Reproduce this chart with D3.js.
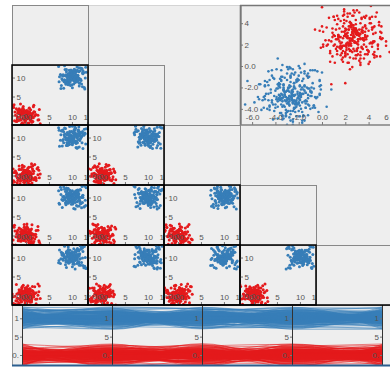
<!DOCTYPE html>
<html><head><meta charset="utf-8">
<script src="https://cdn.jsdelivr.net/npm/d3@7/dist/d3.min.js"></script>
<style>
html,body{margin:0;padding:0;background:#fff;overflow:hidden}
svg{display:block}
text{font-family:"Liberation Sans",Arial,sans-serif}
</style></head>
<body><svg id="chart" width="390" height="367"></svg>
<script>
// ---- SPLOM / parallel-coordinate data: 5 dimensions, two clusters (values in tenths) ----
const redD0=[3,-8,12,-5,0,7,-14,2,-3,9,-11,5,17,-2,-7,4,-19,1,10,-6,6,-1,13,-9,-4,22,-12,8,-15,3,0,-8,11,-3,5,-24,7,-6,15,-1,2,-10,9,-17,4,-5,19,-2,-13,6,1,-7,8,-4,14,-9,-20,3,11,-1,5,-6,-12,26,0,-3,7,-8,2,16,-11,4,-5,9,-2,-16,12,-7,1,6,-14,3,-9,21,-4,8,-1,-18,10,-6,2,13,-10,5,-3,-22,7,0,-8,4,-27,15,-6,24,-18,9,-30,2,19,-12,28,-3,-21,11,6,-25,17,-9,31,-15,4,-28,13,-1,22,-8,-19,7,26,-13,1,-23,16,-4,29,-10,8,-26,12,-2];
const redD1=[-6,4,-13,9,1,-2,15,-8,6,-11,3,-4,10,-17,7,0,-9,12,-3,5,-20,8,-1,14,-7,2,-12,6,18,-5,-2,11,-15,4,-8,9,1,-23,6,-3,13,-10,0,7,-6,16,-1,-14,3,10,-5,20,-9,2,-4,8,-16,5,-1,12,-7,24,-11,1,6,-3,9,-19,4,-6,14,-2,-10,7,0,-13,3,17,-8,5,-4,11,-21,2,-1,8,-12,6,15,-5,-9,3,1,-7,10,-15,19,-2,4,-6,21,-16,5,-29,13,-4,26,-20,9,30,-11,-1,18,-25,7,-14,27,3,-22,12,-7,25,-18,6,-31,15,-3,20,-12,8,-27,1,23,-9,16,-24,4,28,-6,-17];
const redD2=[10,-3,-9,5,14,-7,2,-16,8,0,-4,12,-11,6,-1,19,-6,3,-13,9,-2,7,-20,4,11,-8,1,-5,16,-10,6,-3,23,-12,2,8,-7,-1,13,-17,5,-4,9,-9,0,15,-6,3,-22,11,-2,7,-14,1,18,-5,4,-11,6,-8,12,-3,-15,2,9,-1,-6,21,-10,5,-4,13,-18,0,7,-7,3,-12,10,-2,16,-9,4,-5,-25,8,1,-13,6,-3,11,-6,2,-19,14,-1,5,-10,3,-8,-14,26,-5,18,-28,9,-21,3,29,-11,14,-24,7,-2,22,-17,11,-30,4,25,-8,17,-26,1,-13,27,-19,6,21,-3,-29,12,-10,24,-6,16,-23,8,31,-15];
const redD3=[-2,11,5,-13,-6,8,0,17,-9,3,-15,6,1,-4,13,-10,9,-1,-21,4,7,-7,2,15,-12,-3,10,-5,20,-8,1,6,-17,3,-2,12,-11,8,-6,0,24,-4,5,-14,9,-9,2,16,-3,-18,7,-1,11,-7,4,-12,3,19,-5,8,-10,1,-2,14,-16,6,-8,10,-3,-23,5,0,12,-6,2,-11,17,-4,7,-1,-14,9,-7,3,22,-9,1,-5,13,-2,6,-19,4,-12,8,-3,15,0,-8,5,25,-19,8,-27,14,2,-23,30,-9,17,-14,21,-31,5,-6,27,-16,10,-24,1,19,-12,28,-4,13,-29,6,-20,24,-7,11,-25,3,29,-18,9,-2,22,-11,15];
const redD4=[7,-1,-12,4,16,-8,3,-5,10,-18,1,8,-3,13,-10,5,-7,21,-2,0,-14,9,-6,2,12,-22,6,-4,15,-1,-9,4,11,-13,7,-2,18,-6,1,-11,9,-16,3,-8,14,-3,5,-20,10,0,-5,7,-12,2,24,-7,4,-1,-15,8,-9,12,-4,1,17,-11,6,-2,-19,3,10,-6,5,-13,0,8,-17,2,13,-8,4,-3,20,-10,7,-5,1,-24,11,-1,6,-9,15,-4,3,-14,9,-7,2,-2,-21,12,27,-9,-30,18,4,-16,23,-25,10,-5,29,-13,16,-27,2,21,-8,-19,26,-3,13,-28,7,24,-15,-1,30,-11,19,-23,9,-6,25,-17,14,-29,3,20];
const blueD0=[104,95,112,99,88,107,101,117,93,103,86,110,98,106,91,121,100,95,114,102,83,108,97,111,94,105,89,116,99,92,109,103,78,113,96,101,90,119,105,93,108,87,100,115,97,104,82,111,95,107,99,124,91,102,113,88,106,98,120,94,103,85,110,96,101,117,92,105,90,109,100,81,114,97,103,93,118,106,89,99,112,95,104,84,108,101,123,92,107,97,115,88,102,110,94,99,105,80,111,96,127,88,113,71,104,124,82,118,95,130,77,109,121,86,99,128,73,115,92,126,80,111,123,75,107,89,129,84,116,96,72,122,101,79,119,87,131,93,76,112];
const blueD1=[97,108,90,103,115,94,101,86,110,99,105,92,120,96,107,83,102,111,95,100,89,113,104,98,119,91,106,85,101,109,93,117,97,104,88,112,100,95,122,90,103,107,81,98,114,96,105,91,110,87,102,118,94,100,106,84,113,99,92,108,97,121,89,103,111,95,86,104,101,116,93,107,98,79,110,102,96,114,90,105,99,88,119,94,108,100,112,85,103,97,115,92,106,101,83,109,95,104,117,98,74,121,96,129,83,110,72,118,91,127,79,105,124,86,115,70,102,126,81,113,93,128,76,108,120,85,99,131,78,117,89,123,73,106,125,82,114,94,71,119];
const blueD2=[110,92,100,116,97,104,85,108,95,112,101,89,106,119,94,103,98,82,111,96,107,90,114,100,93,121,87,105,99,109,84,102,117,95,106,91,113,98,103,88,124,96,101,108,93,115,86,104,99,111,94,107,80,102,118,97,105,90,112,100,96,109,87,103,115,92,106,99,83,110,101,95,120,89,104,97,113,91,107,100,86,116,94,102,108,81,111,98,105,93,118,96,103,88,109,100,114,92,106,97,122,79,108,126,87,71,115,97,129,83,118,74,103,124,90,112,77,128,85,106,120,72,116,93,127,80,110,125,75,101,119,86,130,78,113,95,123,81,107,73];
const blueD3=[95,106,113,88,101,97,118,92,104,110,86,99,107,94,122,100,91,105,115,83,102,96,111,89,108,98,117,93,103,85,112,100,95,120,90,106,101,87,114,97,104,81,109,99,116,92,103,107,88,111,96,100,123,94,105,90,113,98,84,102,110,95,106,119,91,101,97,108,86,115,100,93,104,112,89,99,121,96,107,82,103,110,94,98,117,91,105,100,87,113,96,108,102,79,111,99,106,93,116,101,76,125,90,118,71,106,128,84,113,79,121,97,73,116,88,130,82,109,124,75,102,119,87,127,70,111,93,122,78,115,85,129,99,74,120,83,126,92,108,77];
const blueD4=[102,89,107,96,115,100,93,110,85,104,98,119,91,106,101,87,112,95,108,83,103,117,97,100,92,113,88,105,99,121,94,102,109,86,111,96,104,80,107,100,114,93,98,118,90,103,106,84,110,97,101,116,92,105,89,112,99,95,123,87,104,100,108,91,115,96,102,82,109,98,106,93,120,101,88,111,97,104,114,90,100,107,85,103,117,95,99,110,92,105,86,113,98,101,119,94,108,96,103,89,129,74,117,86,123,79,108,131,91,72,114,98,126,81,103,77,120,89,128,73,111,95,125,84,70,116,100,130,80,119,92,127,76,106,122,88,71,113,97,124];

// ---- large 2-D scatter: core points (values in tenths) ----
const bigRedX=[20,27,21,33,18,29,25,40,14,31,24,36,20,28,9,34,26,22,45,30,17,25,38,23,12,32,27,19,43,26,35,21,29,6,33,24,28,16,39,25,31,20,48,27,13,34,23,30,18,37,26,22,41,28,11,32,25,19,35,29,15,44,24,30,21,27,36,17,52,26,33,20,28,10,38,25,31,22,46,27,16,34,23,29,3,37,26,20,32,28,42,18,25,35,14,30,24,39,21,27,8,33,26,50,19,31,23,36,28,13,40,25,22,29,17,34,26,45,20,32,24,38,15,27,30,21,55,25,33,18,28,11,36,24,31,19,43,26,7,35,22,29,16,39,27,23,47,30,20,34,25,12,37,28,21,41,24,32,17,29,26,58,19,35,23,30,14,38,27,22,44,25,31,9,34,28,20,49,26];
const bigRedY=[-16,30,19,26,37,22,14,33,28,20,41,24,9,35,27,17,31,46,23,29,12,38,25,21,34,5,28,43,18,32,26,15,39,24,30,20,50,27,11,36,23,29,16,33,25,44,19,31,8,37,26,22,40,14,28,34,21,53,25,30,17,36,24,10,42,27,20,32,26,47,13,35,23,29,18,39,25,3,31,28,21,45,16,34,24,27,38,12,30,22,56,26,19,33,25,15,41,28,20,36,23,7,31,27,48,17,34,25,22,39,13,29,26,43,18,32,24,37,10,28,21,35,27,52,16,30,23,40,25,14,33,20,46,26,29,19,36,24,4,31,28,22,42,15,34,26,50,21,30,18,38,25,11,32,27,44,23,29,17,35,24,13,40,26,20,33,28,47,16,31,22,37,25,9,34,27,19,41,24];
const bigBlueX=[-24,-31,-18,-27,-38,-21,-29,-13,-33,-25,-44,-20,-28,-35,-16,-26,-30,-9,-23,-40,-27,-19,-32,-24,-49,-22,-34,-15,-29,-26,-37,-11,-25,-31,-20,-42,-28,-17,-33,-23,-6,-30,-26,-39,-21,-35,-14,-27,-46,-24,-32,-18,-29,-25,-52,-20,-36,-12,-28,-31,-22,-41,-26,-16,-34,-23,-3,-30,-27,-38,-19,-33,-25,-47,-21,-29,-10,-35,-24,-28,-43,-17,-31,-26,-22,-37,-14,-32,-25,-55,-20,-30,-18,-39,-27,-23,-8,-34,-26,-45,-19,-29,-33,-15,-28,-24,-40,-21,-36,-12,-30,-27,-50,-22,-32,-17,-26,-38,-25,-1,-31,-20,-35,-28,-44,-16,-29,-23,-41,-26,-13,-33,-24,-48,-19,-30,-27,-36,-11,-25,-32,-21,-42,-28,-18,-34,-22,-58,-26,-31,-15,-37,-24,-29,-7,-33,-20,-46,-27,-23,-39,-17,-30,-25,-53,-21,-35,-14,-28,-32,-19,-43,-26,-10,-34,-24];
const bigBlueY=[-20,-33,-27,-15,-38,-24,-30,-9,-29,-42,-22,-35,-18,-26,-47,-31,-13,-28,-36,-23,-2,-32,-25,-40,-19,-34,-27,-51,-21,-30,-16,-37,-24,-44,-28,-11,-33,-26,-20,-39,-29,-55,-23,-31,-14,-36,-25,-45,-18,-32,-27,-6,-34,-22,-41,-28,-17,-30,-48,-24,-35,-12,-29,-26,-38,-21,-43,-31,-19,-33,-25,-58,-27,-15,-36,-23,-40,-30,-8,-28,-34,-20,-46,-26,-32,-18,-39,-24,-52,-29,-13,-35,-22,-31,-42,-27,-4,-33,-25,-37,-19,-30,-49,-23,-28,-16,-36,-26,-44,-21,-32,-10,-29,-38,-24,-53,-27,-17,-34,-22,-41,-30,-14,-31,-25,-46,-20,-35,-28,-7,-33,-23,-39,-26,-18,-43,-29,-32,-21,-50,-27,-12,-36,-24,-40,-30,-15,-34,-25,-47,-19,-31,-28,-3,-37,-22,-42,-26,-11,-33,-29,-56,-23,-35,-17,-30,-44,-25,-20,-38,-27,-9,-32,-24];
// ---- large 2-D scatter: outer points (values in tenths) ----
const bigRedX2=[36,18,16,45,29,9,24,38,14,12,50,27,10,33,31,11,16,55,26,5,40,30,9,22,50,24,7,47,31,1,27,50,23,13,45,29,1,33,49,15,17,48,29,4,31,46,14,24,51,21,7,35,43,14,23,51,19,13,39,30,15,29,51,20,11,42,24,17,36,41,19,18,44,19,13,40,37,20,26,37,13,16,45,32,14,33,37,10,20,41,27,15,41,37,0,24,43,22,18,39,35,-2,29,44,10,21,44,33,-1,26,43,6,24,48,23,1,30,42,4,21,-12,62,-6,60,8,45,65,0];
const bigRedY2=[24,47,16,8,33,31,-3,27,44,16,9,38,19,1,29,43,10,19,34,20,2,33,35,11,26,37,14,9,31,32,7,32,34,14,10,35,20,10,38,35,6,19,31,19,11,46,29,8,25,34,12,16,46,29,3,31,32,11,15,52,18,7,37,33,3,22,49,22,7,45,28,4,23,51,18,14,45,28,-1,29,47,19,13,50,27,3,32,46,13,21,47,23,4,38,37,14,21,49,19,11,36,33,10,30,46,21,11,40,17,13,34,45,15,20,37,18,14,40,36,17,-10,56,34,-2,-17,60,28,55];
const bigBlueX2=[-24,-49,-14,-6,-38,-29,-2,-24,-45,-17,-10,-39,-22,-1,-33,-40,-14,-15,-37,-23,-2,-33,-34,-10,-28,-36,-17,-4,-33,-34,-9,-34,-32,-12,-15,-33,-27,-7,-39,-36,-7,-20,-31,-19,-15,-43,-33,-4,-25,-37,-12,-16,-45,-28,-9,-30,-35,-6,-17,-54,-24,-9,-35,-31,-8,-20,-54,-19,-8,-46,-29,-5,-22,-51,-22,-11,-49,-24,-2,-32,-47,-19,-12,-49,-28,-2,-35,-41,-15,-23,-49,-25,-2,-36,-42,-12,-27,-46,-20,-12,-37,-34,-10,-30,-50,-18,-15,-36,-25,-16,-34,-45,-14,-19,-43,-17,-13,-35,-38,-19,8,4,-64,-66,0,-38];
const bigBlueY2=[-19,-31,-39,-4,-21,-42,-27,-16,-38,-34,-4,-21,-47,-18,-18,-39,-35,2,-30,-43,-13,-17,-47,-28,-1,-28,-43,-5,-22,-46,-25,1,-32,-36,-5,-22,-51,-21,-3,-31,-37,0,-29,-47,-18,-4,-37,-29,-3,-27,-46,-12,-13,-36,-24,-1,-31,-39,-14,-17,-40,-20,-4,-29,-39,-9,-31,-37,-16,-5,-35,-30,-13,-32,-36,-10,-14,-33,-26,-11,-40,-31,-11,-18,-37,-19,-13,-42,-33,-6,-28,-34,-14,-12,-50,-27,-9,-32,-34,-7,-19,-50,-23,-7,-39,-29,-7,-20,-55,-22,-10,-41,-32,-2,-32,-51,-20,-10,-49,-26,-22,-38,-14,-36,-6,7];

// ---- tick values / labels ----
const splomXTicks=[0,5,10,13.4];
const splomXLabels=["0.0","5","10","14"];
const splomYTicks=[0,5,10];
const splomYLabels=["0.0","5","10"];
const bigXTicks=[-6,-4,-2,0,2,4,6];
const bigXLabels=["-6.0","-4.0","-2.0","0.0","2","4","6"];
const bigYTicks=[-4,-2,0,2,4,6];
const bigYLabels=["-4.0","-2.0","0.0","2","4","6"];
const pcTicks=[0,5,10];
const pcLabels=["0.","5","1"];

const RED="#e41a1c", BLUE="#377eb8";
const W=390,L=12,T=5,CW=76,CH=60,N=5;
const FONT="Liberation Sans, Arial, sans-serif";
const svg=d3.select("#chart");
const defs=svg.append("defs");

function toRows(cols){const n=d3.min(cols,c=>c.length);return d3.range(n).map(i=>cols.map(c=>c[i]/10));}
function toPairs(xs,ys){const n=Math.min(xs.length,ys.length);return d3.range(n).map(i=>[xs[i]/10,ys[i]/10]);}
const groups=[
  {color:RED, rows:toRows([redD0,redD1,redD2,redD3,redD4])},
  {color:BLUE,rows:toRows([blueD0,blueD1,blueD2,blueD3,blueD4])}
];
const bigSets=[
  {color:RED, pts:toPairs(bigRedX,bigRedY).concat(toPairs(bigRedX2,bigRedY2))},
  {color:BLUE,pts:toPairs(bigBlueX,bigBlueY).concat(toPairs(bigBlueX2,bigBlueY2))}
];
function styleAxis(g){
  g.attr("font-size",8).attr("font-family",FONT).attr("color","#555");
  g.select(".domain").remove();
  g.selectAll(".tick line").attr("stroke","#777");
}

// background
svg.append("rect").attr("x",L).attr("y",T).attr("width",W-L).attr("height",361).attr("fill","#eeeeee");
svg.append("line").attr("x1",L).attr("x2",240).attr("y1",T+0.5).attr("y2",T+0.5).attr("stroke","#d4d4d4");
svg.append("line").attr("x1",L+0.5).attr("x2",L+0.5).attr("y1",T).attr("y2",366).attr("stroke","#9a9a9a");

// diagonal (empty) cells
for(let r=0;r<N;r++){
  svg.append("rect").attr("x",L+r*CW+0.5).attr("y",T+r*CH+0.5).attr("width",CW).attr("height",CH)
    .attr("fill","none").attr("stroke","#888");
}

// scatter cells
const sx=d3.scaleLinear().domain([-3.05,13.5]).range([0,CW]);
const sy=d3.scaleLinear().domain([-2.5,13.3]).range([CH,0]);
defs.append("clipPath").attr("id","cellclip").append("rect").attr("width",CW).attr("height",CH);
for(let r=1;r<N;r++)for(let c=0;c<r;c++){
  const g=svg.append("g").attr("transform",`translate(${L+c*CW},${T+r*CH})`);
  const inner=g.append("g").attr("clip-path","url(#cellclip)");
  groups.forEach(grp=>{
    inner.append("g").attr("fill",grp.color).selectAll("circle").data(grp.rows).join("circle")
      .attr("cx",d=>sx(d[c])).attr("cy",d=>sy(d[r])).attr("r",1.5);
  });
  inner.append("g").attr("transform",`translate(0,${CH})`)
    .call(d3.axisTop(sx).tickValues(splomXTicks).tickFormat((d,i)=>splomXLabels[i]).tickSize(3).tickPadding(2))
    .call(styleAxis);
  inner.append("g")
    .call(d3.axisRight(sy).tickValues(splomYTicks).tickFormat((d,i)=>splomYLabels[i]).tickSize(3).tickPadding(1.5))
    .call(styleAxis);
  g.append("rect").attr("width",CW).attr("height",CH).attr("fill","none").attr("stroke","#000").attr("stroke-width",1.5);
}

// large scatter (top right)
const BX=240,BY=5,BW=152,BH=120;
const bx=d3.scaleLinear().domain([-7.04,6.01]).range([0,BW]);
const by=d3.scaleLinear().domain([-5.51,5.7]).range([BH,0]);
defs.append("clipPath").attr("id","bigclip").append("rect").attr("width",BW).attr("height",BH);
const bg=svg.append("g").attr("transform",`translate(${BX},${BY})`);
const bin=bg.append("g").attr("clip-path","url(#bigclip)");
bigSets.forEach(s=>{
  bin.append("g").attr("fill",s.color).selectAll("circle").data(s.pts).join("circle")
    .attr("cx",d=>bx(d[0])).attr("cy",d=>by(d[1])).attr("r",1.3);
});
const bxa=bin.append("g").attr("transform",`translate(0,${BH})`)
  .call(d3.axisTop(bx).tickValues(bigXTicks).tickFormat((d,i)=>bigXLabels[i]).tickSize(3).tickPadding(2))
  .call(styleAxis);
bxa.selectAll(".tick text").filter(d=>bx(d)>BW-8).attr("dx",-6);
bin.append("g")
  .call(d3.axisRight(by).tickValues(bigYTicks).tickFormat((d,i)=>bigYLabels[i]).tickSize(3).tickPadding(1.5))
  .call(styleAxis);
bg.append("line").attr("x1",0.7).attr("x2",0.7).attr("y1",0).attr("y2",BH).attr("stroke","#777").attr("stroke-width",2);
bg.append("line").attr("x1",0).attr("x2",BW).attr("y1",0.5).attr("y2",0.5).attr("stroke","#777").attr("stroke-width",1.5);
bg.append("line").attr("x1",0).attr("x2",BW).attr("y1",BH).attr("y2",BH).attr("stroke","#808080").attr("stroke-width",1.5);

// parallel coordinates (bottom)
const PX=12,PY=305,PW=380,PH=60;
const px=d3.scalePoint().domain(d3.range(N)).range([10,370]);
const py=d3.scaleLinear().domain([-2.72,13.62]).range([PH,0]);
defs.append("clipPath").attr("id","pcclip").append("rect").attr("width",PW).attr("height",PH);
const pg=svg.append("g").attr("transform",`translate(${PX},${PY})`);
const pin=pg.append("g").attr("clip-path","url(#pcclip)");
const line=d3.line().x((d,i)=>px(i)).y(d=>py(d)).curve(d3.curveMonotoneX);
groups.forEach(grp=>{
  pin.append("g").attr("fill","none").attr("stroke",grp.color).attr("stroke-opacity",0.55).attr("stroke-width",1)
    .selectAll("path").data(grp.rows).join("path").attr("d",line);
});
d3.range(N).forEach(i=>{
  const a=pin.append("g").attr("transform",`translate(${px(i)},0)`)
    .call(d3.axisLeft(py).tickValues(pcTicks).tickFormat((d,k)=>pcLabels[k]).tickSize(2).tickPadding(1))
    .call(styleAxis);
  a.append("line").attr("x1",0.5).attr("x2",0.5).attr("y1",0).attr("y2",PH).attr("stroke","#333");
});
pg.append("line").attr("x1",0).attr("x2",PW).attr("y1",0).attr("y2",0).attr("stroke","#000").attr("stroke-width",1.5);
pg.append("line").attr("x1",0).attr("x2",PW).attr("y1",PH+0.5).attr("y2",PH+0.5).attr("stroke","#2c5f8f").attr("stroke-width",2);
</script>
</body></html>
